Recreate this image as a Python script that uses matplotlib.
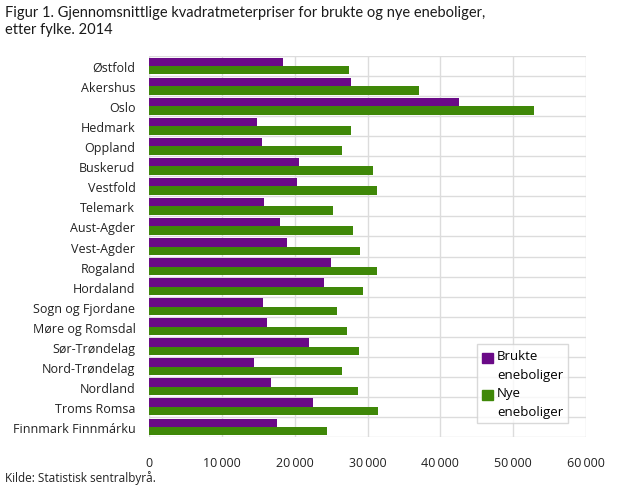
import matplotlib
matplotlib.use('Agg')
import matplotlib.pyplot as plt
import matplotlib.patches as mpatches
from matplotlib.legend_handler import HandlerPatch
import numpy as np

plt.rcParams['font.family'] = ['Open Sans', 'DejaVu Sans']

fylker = ['Østfold', 'Akershus', 'Oslo', 'Hedmark', 'Oppland', 'Buskerud', 'Vestfold',
          'Telemark', 'Aust-Agder', 'Vest-Agder', 'Rogaland', 'Hordaland', 'Sogn og Fjordane',
          'Møre og Romsdal', 'Sør-Trøndelag', 'Nord-Trøndelag', 'Nordland', 'Troms Romsa',
          'Finnmark Finnmárku']
brukte = [18400, 27650, 42550, 14850, 15500, 20600, 20300, 15800, 18000, 18950,
          25000, 24000, 15650, 16200, 22000, 14400, 16750, 22500, 17550]
nye = [27450, 37100, 52800, 27750, 26500, 30750, 31300, 25250, 28000, 29000,
       31300, 29400, 25800, 27200, 28850, 26500, 28700, 31450, 24450]
xticks = [0, 10000, 20000, 30000, 40000, 50000, 60000]

c_brukte = '#6a0a87'
c_nye = '#3f8808'

fig = plt.figure(figsize=(6.18, 4.89), dpi=100)
ax = fig.add_axes([149.3 / 618, 1 - 438 / 489, (586 - 149.3) / 618, (438 - 57) / 489])

y = np.arange(len(fylker))
h = 0.42
ax.barh(y - h / 2, brukte, height=h, color=c_brukte, zorder=3)
ax.barh(y + h / 2, nye, height=h, color=c_nye, zorder=3)

ax.set_xlim(0, 60000)
ax.set_ylim(len(fylker) - 0.5, -0.5)
ax.set_yticks(y)
ax.set_yticklabels(fylker, fontsize=9, color='#222222')
ax.set_xticks(xticks)
ax.set_xticklabels([f'{v:,}'.replace(',', '\u2009') if v else '0' for v in xticks],
                   fontsize=9, color='#222222')
ax.set_yticks(np.arange(len(fylker) + 1) - 0.5, minor=True)
ax.tick_params(axis='both', length=0, which='both')
ax.tick_params(axis='x', pad=14)
ax.tick_params(axis='y', pad=10)
ax.grid(axis='x', color='#dcdcdc', lw=1, zorder=0)
ax.grid(axis='y', which='minor', color='#dcdcdc', lw=1, zorder=0)
for s in ax.spines.values():
    s.set_visible(False)


# legend square next to the first line of the two-line label
def top_square(legend, orig_handle, xdescent, ydescent, width, height, fontsize):
    return mpatches.Rectangle((-xdescent, -ydescent + 0.55 * fontsize), width, height)


handles = [mpatches.Patch(color=c_brukte), mpatches.Patch(color=c_nye)]
leg = ax.legend(handles, ['Brukte\neneboliger', 'Nye\neneboliger'],
                loc='lower right', bbox_to_anchor=(0.975, 0.02), fontsize=9.5,
                frameon=True, fancybox=False, handlelength=0.8, handleheight=0.8,
                handletextpad=0.3, borderpad=0.4, labelspacing=0.35,
                handler_map={mpatches.Patch: HandlerPatch(patch_func=top_square)})
for t in leg.get_texts():
    t.set_linespacing(1.6)
leg.get_frame().set_edgecolor('#d0d0d0')
leg.get_frame().set_linewidth(1)

fig.text(5 / 618, 1 - 6 / 489, 'Figur 1. Gjennomsnittlige kvadratmeterpriser for brukte og nye eneboliger,\netter fylke. 2014',
         fontsize=10.5, family=['Lato', 'DejaVu Sans'], va='top', ha='left',
         color='#1a1a1a', linespacing=1.3)
fig.text(5 / 618, 1 - 478 / 489, 'Kilde: Statistisk sentralbyrå.', fontsize=8.5,
         va='center', ha='left', color='#222222')

fig.savefig('out.png', dpi=100)
